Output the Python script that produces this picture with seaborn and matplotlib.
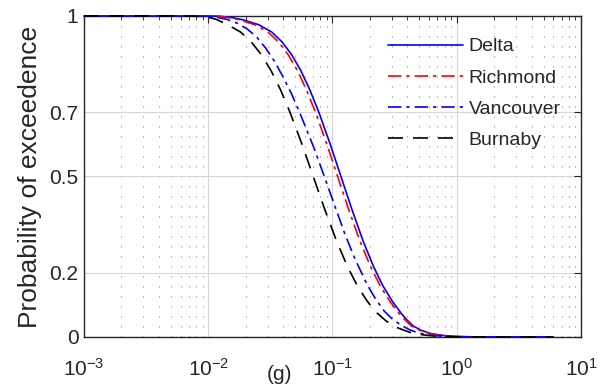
import numpy as np
import pandas as pd
import matplotlib
matplotlib.use('Agg')
import matplotlib.pyplot as plt
import seaborn as sns
from matplotlib.ticker import LogLocator, NullFormatter

# values (x in g, y = probability of exceedence)
delta_g = [0.001, 0.005, 0.0105, 0.0125, 0.0150, 0.0191, 0.0254, 0.0324, 0.0391, 0.0468, 0.0556,
           0.0657, 0.0777, 0.0960, 0.1170, 0.1426, 0.1760, 0.2136, 0.2540, 0.3047, 0.360, 0.400,
           0.447, 0.520, 0.610, 0.720, 0.830, 1.0, 1.4, 2.0, 6.0]
delta_p = [1.0, 1.0, 1.0, 0.999, 0.996, 0.988, 0.973, 0.95, 0.92, 0.88, 0.83,
           0.77, 0.70, 0.60, 0.50, 0.40, 0.30, 0.22, 0.16, 0.11, 0.072, 0.052,
           0.034, 0.0205, 0.0115, 0.0065, 0.0038, 0.0015, 0.0003, 0.0, 0.0]

rich_g = [0.001, 0.005, 0.0098, 0.0117, 0.0140, 0.0178, 0.0236, 0.0302, 0.0366, 0.0439, 0.0522,
          0.0617, 0.0730, 0.0902, 0.1100, 0.1342, 0.1660, 0.2020, 0.2415, 0.2910, 0.346, 0.386,
          0.433, 0.505, 0.593, 0.700, 0.808, 0.975, 1.37, 2.0, 6.0]
rich_p = [1.0, 1.0, 1.0, 0.999, 0.996, 0.988, 0.973, 0.95, 0.92, 0.88, 0.83,
          0.77, 0.70, 0.60, 0.50, 0.40, 0.30, 0.22, 0.16, 0.11, 0.072, 0.052,
          0.034, 0.0205, 0.0115, 0.0065, 0.0038, 0.0015, 0.0003, 0.0, 0.0]

van_g = [0.001, 0.005, 0.009, 0.0115, 0.014, 0.017, 0.0205, 0.0245, 0.029, 0.034, 0.0398,
         0.0465, 0.0550, 0.0700, 0.0860, 0.1040, 0.1260, 0.1530, 0.192, 0.225, 0.262, 0.305,
         0.36, 0.42, 0.50, 0.62, 0.78, 1.0, 1.4, 2.0, 6.0]
van_p = [1.0, 1.0, 0.999, 0.996, 0.99, 0.978, 0.96, 0.935, 0.90, 0.86, 0.812,
         0.76, 0.695, 0.595, 0.50, 0.41, 0.32, 0.24, 0.16, 0.115, 0.08, 0.055,
         0.036, 0.022, 0.012, 0.0055, 0.0022, 0.0007, 0.0001, 0.0, 0.0]

bur_g = [0.001, 0.005, 0.0075, 0.0095, 0.0115, 0.0140, 0.0182, 0.0221, 0.0267, 0.0320, 0.0382,
         0.0455, 0.0569, 0.0700, 0.0862, 0.1076, 0.1318, 0.1582, 0.1915, 0.228, 0.270, 0.327,
         0.415, 0.525, 0.666, 0.88, 1.2, 2.0, 6.0]
bur_p = [1.0, 1.0, 0.9995, 0.998, 0.99, 0.975, 0.95, 0.92, 0.88, 0.83, 0.77,
         0.70, 0.60, 0.50, 0.40, 0.30, 0.22, 0.16, 0.11, 0.075, 0.05, 0.03,
         0.015, 0.007, 0.003, 0.001, 0.0002, 0.0, 0.0]

y_ticks = [0, 0.2, 0.5, 0.7, 1]
y_labels = ['0', '0.2', '0.5', '0.7', '1']

series = [
    ('Delta', delta_g, delta_p, '#0000ff', '-'),
    ('Richmond', rich_g, rich_p, '#ff0000', (0, (8, 3, 2, 3))),
    ('Vancouver', van_g, van_p, '#0000ff', (0, (8, 3, 2, 3))),
    ('Burnaby', bur_g, bur_p, '#000000', (0, (9, 6))),
]

sns.set_style('white')
plt.rcParams['font.family'] = ['Liberation Sans', 'DejaVu Sans']
plt.rcParams['mathtext.default'] = 'regular'

fig, ax = plt.subplots(figsize=(6.06, 3.87), dpi=100)
fig.subplots_adjust(left=0.1386, right=0.9587, bottom=0.1292, top=0.9587)

for name, g, p, col, ls in series:
    df = pd.DataFrame({'g': g, 'p': p})
    sns.lineplot(data=df, x='g', y='p', ax=ax, color=col, linestyle=ls,
                 linewidth=1.2, label=name, estimator=None, sort=False,
                 clip_on=False, zorder=3)

ax.set_xscale('log')
ax.set_xlim(1e-3, 1e1)
ax.set_ylim(0, 1)
ax.set_yticks(y_ticks)
ax.set_yticklabels(y_labels)
ax.xaxis.set_minor_locator(LogLocator(base=10, subs=np.arange(2, 10)))
ax.xaxis.set_minor_formatter(NullFormatter())

ax.grid(which='major', color='#d6d6d6', linewidth=0.8)
ax.grid(which='minor', axis='x', color='#8c8c8c', linestyle=(0, (1, 8)), linewidth=0.8)
ax.set_axisbelow(True)

ax.tick_params(which='both', direction='in', top=True, right=True,
               colors='#262626', labelsize=15)
ax.tick_params(which='major', length=5)
ax.tick_params(which='minor', length=3)
ax.tick_params(axis='x', pad=15)
ax.tick_params(axis='y', pad=4)
for s in ax.spines.values():
    s.set_color('#262626')
    s.set_linewidth(1.0)

ax.set_ylabel('Probability of exceedence', fontsize=19, color='#262626', labelpad=5)
ax.set_xlabel('(g)', fontsize=15, color='#262626')
ax.xaxis.set_label_coords(0.394, -0.087)

ax.legend(loc='upper left', bbox_to_anchor=(0.612, 0.932), frameon=False,
          fontsize=14, borderpad=0, handlelength=3.85, handletextpad=0.3,
          labelspacing=0.7, borderaxespad=0)

plt.savefig('out.png', dpi=100)
